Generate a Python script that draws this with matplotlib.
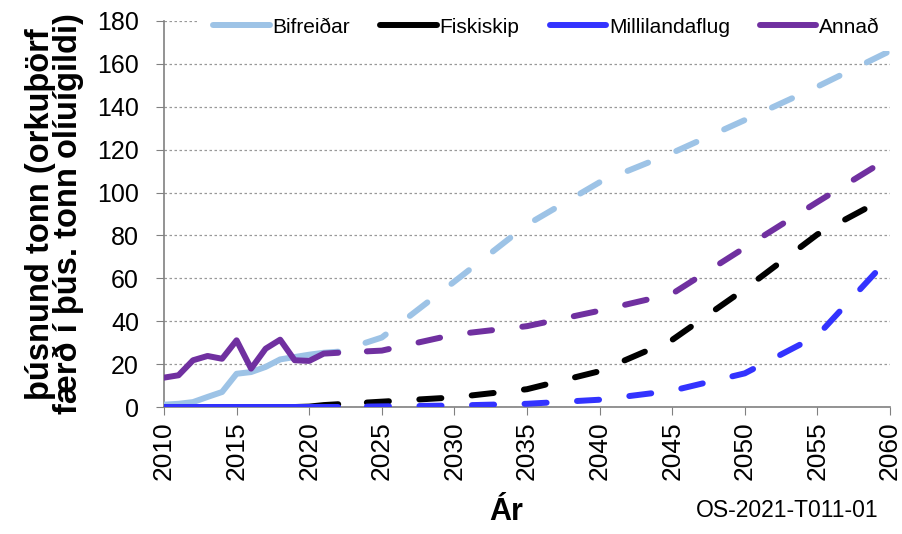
import matplotlib
matplotlib.use('Agg')
import matplotlib.pyplot as plt

plt.rcParams['font.family'] = ['Liberation Sans', 'DejaVu Sans']

# historic (solid) 2010-2022
years_hist = [2010, 2011, 2012, 2013, 2014, 2015, 2016, 2017, 2018, 2019, 2020, 2021, 2022]
bifreidar_hist = [1.1, 1.5, 2.3, 4.7, 7.0, 15.5, 16.3, 18.7, 22.2, 23.3, 24.4, 25.3, 25.8]
fiskiskip_hist = [0, 0, 0, 0, 0, 0, 0, 0, 0, 0, 0.2, 0.9, 1.3]
flug_hist = [0, 0, 0, 0, 0, 0, 0, 0, 0, 0, 0, 0, 0]
annad_hist = [13.7, 14.8, 21.8, 23.8, 22.5, 31.1, 17.9, 27.2, 31.4, 21.8, 21.5, 24.9, 25.3]

# projections (dashed)
years_proj = [2022, 2025, 2030, 2035, 2040, 2045, 2050, 2055, 2060]
bifreidar_proj = [25.8, 32.4, 58.5, 85.0, 104.8, 118.5, 133.8, 149.4, 166.0]
fiskiskip_proj = [1.3, 2.5, 4.5, 8.3, 16.7, 31.3, 55.0, 80.5, 98.6]
flug_proj = [0, 0.3, 0.7, 1.5, 3.4, 7.6, 15.7, 33.3, 70.0]
annad_proj = [25.3, 26.3, 33.8, 37.7, 44.9, 52.8, 74.3, 95.6, 116.4]

names = ['Bifreiðar', 'Fiskiskip', 'Millilandaflug', 'Annað']
colors = ['#9DC3E6', '#000000', '#3333FF', '#7030A0']
hist = [bifreidar_hist, fiskiskip_hist, flug_hist, annad_hist]
proj = [bifreidar_proj, fiskiskip_proj, flug_proj, annad_proj]

fig = plt.figure(figsize=(9.03, 5.34), dpi=100)
ax = fig.add_axes([0.1816, 0.2378, 0.8040, 0.7229])

lw = 4.3
for name, c, h, p in zip(names, colors, hist, proj):
    ax.plot(years_hist, h, color=c, lw=lw, label=name, solid_capstyle='round',
            solid_joinstyle='round', zorder=3)
    ax.plot(years_proj, p, color=c, lw=lw, linestyle=(4.0, (3.7, 5.1)),
            dash_capstyle='round', zorder=3)

ax.set_xlim(2010, 2060)
ax.set_ylim(0, 180)
ax.set_xticks(range(2010, 2061, 5))
ax.set_yticks(range(0, 181, 20))
ax.tick_params(axis='x', labelsize=19, rotation=90, length=6, pad=4, color='#808080')
ax.tick_params(axis='y', labelsize=18, length=6, pad=12, color='#808080')
ax.grid(axis='y', linestyle=(0, (2, 2)), color='#999999', lw=0.9)
ax.set_axisbelow(True)
for s in ['top', 'right']:
    ax.spines[s].set_visible(False)
for s in ['left', 'bottom']:
    ax.spines[s].set_color('#808080')
    ax.spines[s].set_linewidth(1.2)

ax.set_ylabel('þúsnund tonn (orkuþörf\nfærð í þús. tonn olíuígildi)', fontsize=23.5,
              fontweight='bold', linespacing=0.85)
ax.yaxis.set_label_coords(-0.110, 0.5)
ax.set_xlabel('Ár', fontsize=22, fontweight='bold', va='top')
ax.xaxis.set_label_coords(0.472, -0.232)

leg = ax.legend(loc='center', bbox_to_anchor=(0.527, 0.984), ncol=4, fontsize=15,
                handlelength=2.7, handletextpad=0.15, columnspacing=1.44,
                frameon=True, facecolor='white', edgecolor='none', framealpha=1,
                borderpad=0.7)

fig.text(0.872, 0.022, 'OS-2021-T011-01', fontsize=16.5, ha='center', va='bottom')

fig.savefig('out.png', dpi=100)
